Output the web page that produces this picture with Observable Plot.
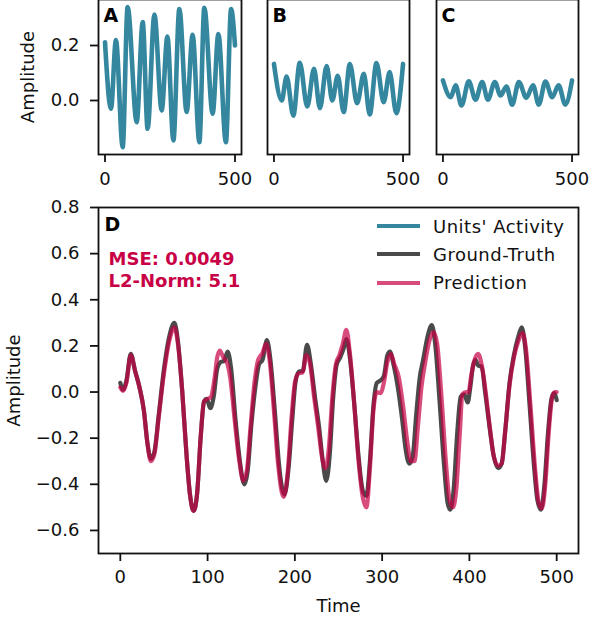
<!DOCTYPE html>
<html>
<head>
<meta charset="utf-8">
<script src="https://cdn.jsdelivr.net/npm/d3@7"></script>
<script src="https://cdn.jsdelivr.net/npm/@observablehq/plot@0.6"></script>
<style>
  html, body { margin: 0; padding: 0; background: #fff; }
  #wrap { position: relative; width: 589px; height: 622px; overflow: hidden; font-family: "DejaVu Sans", sans-serif; }
  .panel { position: absolute; }
  #legend { position: absolute; left: 377px; top: 212px; font-size: 18px; letter-spacing: 0.5px; color: #111; }
  #legend .row { display: flex; align-items: center; height: 28.3px; }
  #legend .sw { width: 43px; height: 4px; margin-right: 13px; }
</style>
</head>
<body>
<div id="wrap"></div>
<script>
// ---------- data ----------
const timeA = [0,23,42,68,87,122,145,164,190,218,240,263,286,314,337,363,382,414,436,465,485,500];
const ampA  = [0.212,-0.03,0.22,-0.17,0.34,-0.079,0.285,-0.103,0.313,-0.036,0.233,-0.145,0.333,-0.042,0.239,-0.152,0.337,-0.048,0.242,-0.152,0.333,0.2];

const timeB = [0,30,49,75,100,129,155,178,204,226,247,270,294,322,348,371,397,425,448,474,500];
const ampB  = [0.133,0.0,0.087,-0.055,0.137,-0.022,0.115,-0.028,0.125,0.0,0.09,-0.042,0.133,-0.01,0.097,-0.051,0.136,-0.006,0.103,-0.046,0.133];

const timeC = [0,30,49,72,100,126,152,174,201,223,246,268,294,323,349,371,397,423,448,474,500];
const ampC  = [0.073,0.012,0.055,-0.018,0.07,0.003,0.067,0.003,0.067,0.018,0.051,-0.015,0.067,0.01,0.055,-0.015,0.069,0.012,0.055,-0.015,0.073];

const timeGT = [0,3,7,12,17,22,27,31,35,39,44,50,56,62,66,71,76,80,84,88,92,96,99,103,107,111,115,119,123,127,132,137,142,146,150,155,159,163,168,172,177,182,188,193,197,201,205,209,214,218,223,228,232,236,240,244,248,252,256,259,263,268,273,278,282,286,290,294,298,302,306,309,313,318,323,327,331,335,339,343,347,352,357,361,366,371,375,378,382,386,390,394,398,401,404,407,410,414,418,423,428,433,437,441,446,451,456,460,464,469,474,478,482,486,490,494,497,500];
const ampGT  = [0.04,0.01,0.05,0.165,0.09,0.02,-0.08,-0.22,-0.29,-0.26,-0.10,0.10,0.24,0.30,0.22,0.0,-0.28,-0.45,-0.515,-0.44,-0.20,-0.04,-0.03,-0.07,-0.02,0.10,0.13,0.135,0.175,0.10,-0.12,-0.30,-0.40,-0.34,-0.15,0.03,0.12,0.14,0.225,0.14,-0.08,-0.32,-0.445,-0.32,-0.12,0.05,0.09,0.09,0.205,0.13,-0.02,-0.16,-0.30,-0.385,-0.27,-0.02,0.12,0.15,0.19,0.23,0.15,-0.05,-0.28,-0.43,-0.45,-0.30,-0.06,0.04,0.05,0.07,0.16,0.175,0.12,0.02,-0.12,-0.25,-0.31,-0.28,-0.10,0.06,0.14,0.24,0.29,0.20,-0.05,-0.32,-0.48,-0.51,-0.42,-0.18,-0.02,-0.01,-0.045,0.02,0.11,0.14,0.115,0.11,0.0,-0.15,-0.28,-0.33,-0.31,-0.17,0.04,0.16,0.24,0.28,0.19,-0.06,-0.32,-0.47,-0.51,-0.40,-0.18,-0.03,-0.005,-0.035];

const timePred = [0,3,7,12,17,22,27,31,35,39,44,50,56,62,66,71,76,80,84,88,92,96,100,104,108,111,114,118,122,126,131,136,141,145,149,154,158,163,167,171,176,181,187,192,196,200,204,209,213,217,222,227,231,235,239,243,247,251,255,259,263,268,273,278,282,286,290,294,298,302,306,310,314,319,324,329,333,337,341,345,349,354,359,363,368,373,377,381,385,389,392,396,399,402,406,410,414,418,423,428,433,437,441,446,451,456,461,465,470,475,479,483,487,491,495,498,500];
const ampPred  = [0.02,0.005,0.04,0.16,0.09,0.02,-0.08,-0.22,-0.30,-0.27,-0.11,0.08,0.22,0.28,0.21,0.0,-0.28,-0.45,-0.515,-0.44,-0.20,-0.04,-0.03,-0.02,0.06,0.15,0.18,0.15,0.13,0.06,-0.12,-0.29,-0.385,-0.34,-0.16,0.05,0.14,0.17,0.21,0.14,-0.08,-0.32,-0.455,-0.34,-0.12,0.04,0.08,0.085,0.16,0.13,-0.02,-0.16,-0.28,-0.33,-0.24,-0.02,0.12,0.16,0.21,0.27,0.17,-0.05,-0.30,-0.46,-0.50,-0.33,-0.08,0.0,-0.005,0.04,0.13,0.165,0.12,0.065,-0.06,-0.22,-0.30,-0.30,-0.15,0.02,0.12,0.22,0.26,0.21,-0.02,-0.30,-0.46,-0.50,-0.42,-0.18,-0.01,0.0,0.0,0.07,0.14,0.165,0.12,0.02,-0.14,-0.28,-0.32,-0.31,-0.17,0.03,0.15,0.22,0.255,0.18,-0.06,-0.32,-0.47,-0.505,-0.40,-0.17,-0.02,0.0,0.0];

const mse = 0.0049;
const l2norm = 5.1;
const seriesNames = ["Units' Activity", "Ground-Truth", "Prediction"];
const xTicksTop = [0, 500];
const yTicksTop = [0.0, 0.2];
const xTicksD = [0, 100, 200, 300, 400, 500];
const yTicksD = [-0.6, -0.4, -0.2, 0.0, 0.2, 0.4, 0.6, 0.8];

// ---------- style ----------
const TEAL = "#34879f";
const GRAY = "#4a4a4a";
const PRED = "rgb(200,0,70)";
const FONT = "DejaVu Sans";
const rows = (ts, vs) => ts.map((t, i) => ({t, v: vs[i]}));
const baseStyle = {fontFamily: FONT, fontSize: "18px", color: "#111", overflow: "visible", background: "transparent"};
const wrap = document.getElementById("wrap");

function place(el, left, top) {
  const d = document.createElement("div");
  d.className = "panel";
  d.style.left = left + "px";
  d.style.top = top + "px";
  d.appendChild(el);
  wrap.appendChild(d);
}

const topY = [-0.1964, 0.3673];

function topPanel(letter, ts, vs, opts) {
  return Plot.plot({
    width: opts.width, height: 201,
    marginLeft: opts.ml, marginRight: opts.mr, marginTop: 0, marginBottom: 46,
    style: baseStyle,
    x: {domain: [-25, 525]},
    y: {domain: topY},
    marks: [
      Plot.axisX({ticks: xTicksTop, tickSize: 8, tickPadding: 10, strokeWidth: 1.8, label: null}),
      opts.yaxis
        ? Plot.axisY({ticks: yTicksTop, tickFormat: ".1f", tickSize: 8, tickPadding: 11, strokeWidth: 1.8,
                      label: "Amplitude", labelAnchor: "center", labelArrow: "none", labelOffset: 77})
        : Plot.axisY({ticks: [], label: null}),
      Plot.line(rows(ts, vs), {x: "t", y: "v", stroke: TEAL, strokeWidth: 4.6, curve: "monotone-x"}),
      Plot.frame({strokeWidth: 1.8}),
      Plot.text([letter], {frameAnchor: "top-left", lineAnchor: "top", dx: 5, dy: 9,
                           fontWeight: "bold", fontSize: 19, fill: "#000"})
    ]
  });
}

place(topPanel("A", timeA, ampA, {width: 245, ml: 98, mr: 4, yaxis: true}), 0, -1);
place(topPanel("B", timeB, ampB, {width: 170, ml: 22, mr: 6, yaxis: false}), 245, -1);
place(topPanel("C", timeC, ampC, {width: 174, ml: 21, mr: 11, yaxis: false}), 415, -1);

const plotD = Plot.plot({
  width: 589, height: 427,
  marginLeft: 98, marginRight: 11, marginTop: 12, marginBottom: 69,
  style: baseStyle,
  x: {domain: [-25, 525]},
  y: {domain: [-0.70, 0.80]},
  marks: [
    Plot.axisX({ticks: xTicksD, tickSize: 8, tickPadding: 9, strokeWidth: 1.8,
                label: "Time", labelAnchor: "center", labelArrow: "none", labelOffset: 58}),
    Plot.axisY({ticks: yTicksD, tickFormat: ".1f", tickSize: 8, tickPadding: 11, strokeWidth: 1.8,
                label: "Amplitude", labelAnchor: "center", labelArrow: "none", labelOffset: 91}),
    Plot.line(rows(timeGT, ampGT), {x: "t", y: "v", stroke: GRAY, strokeWidth: 4.2, curve: "monotone-x"}),
    Plot.line(rows(timePred, ampPred), {x: "t", y: "v", stroke: PRED, strokeOpacity: 0.7, strokeWidth: 4.2, curve: "monotone-x"}),
    Plot.frame({strokeWidth: 1.8}),
    Plot.text(["D"], {frameAnchor: "top-left", lineAnchor: "top", dx: 6, dy: 10,
                      fontWeight: "bold", fontSize: 19, fill: "#000"}),
    Plot.text([`MSE: ${mse}\nL2-Norm: ${l2norm}`], {frameAnchor: "top-left", lineAnchor: "top", dx: 10, dy: 42,
                      fontWeight: "bold", fontSize: 18, lineHeight: 1.22, fill: PRED})
  ]
});
place(plotD, 0, 195);

// legend
const colors = [TEAL, GRAY, PRED];
const opac = [1, 1, 0.7];
const leg = document.createElement("div");
leg.id = "legend";
seriesNames.forEach((name, i) => {
  const r = document.createElement("div");
  r.className = "row";
  const sw = document.createElement("div");
  sw.className = "sw";
  sw.style.background = colors[i];
  sw.style.opacity = opac[i];
  const tx = document.createElement("span");
  tx.textContent = name;
  r.appendChild(sw); r.appendChild(tx);
  leg.appendChild(r);
});
wrap.appendChild(leg);
</script>
</body>
</html>
